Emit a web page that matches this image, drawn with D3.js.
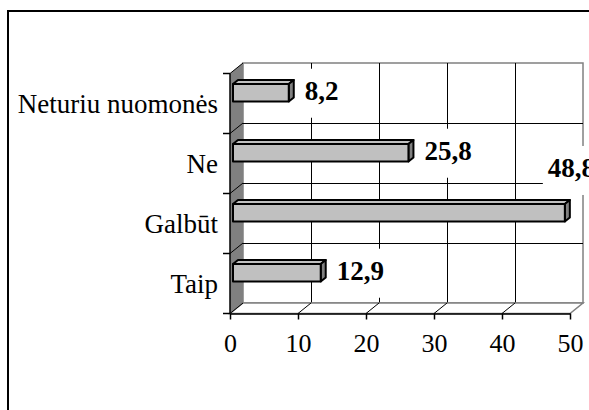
<!DOCTYPE html>
<html>
<head>
<meta charset="utf-8">
<script src="https://cdn.jsdelivr.net/npm/d3@7"></script>
<style>
body { margin: 0; background: #fff; overflow: hidden; }
svg { display: block; font-family: "Liberation Serif", "Times New Roman", serif; }
</style>
</head>
<body>
<svg width="589" height="410"></svg>
<script>
var categories = ["Neturiu nuomonės", "Ne", "Galbūt", "Taip"];
var values = [8.2, 25.8, 48.8, 12.9];
var labels = ["8,2", "25,8", "48,8", "12,9"];
var ticks = [0, 10, 20, 30, 40, 50];

var svg = d3.select("svg"),
width = +svg.attr("width"),
height = +svg.attr("height");

// 3d depth of the plot box
var depthX = 13, depthY = 10.5;

// scales on the back wall
var x = d3.scaleLinear().domain([0, 50]).range([243, 583]);
var y = d3.scaleBand().domain(categories).range([63, 303]);
// same scales on the front plane
var xf = d3.scaleLinear().domain([0, 50]).range([x(0) - depthX, x(50) - depthX]);
var yf = d3.scaleBand().domain(categories).range([63 + depthY, 303 + depthY]);

function px(v, z) { return x(v) - z; }
function py(yy, z) { return yy + z * depthY / depthX; }

var top0 = y.range()[0], bot0 = y.range()[1];
var bounds = categories.map(function(c) { return y(c); }).concat([bot0]);

// outer chart border
svg.append("rect")
.attr("x", 8).attr("y", 11)
.attr("width", 700).attr("height", 500)
.attr("fill", "none").attr("stroke", "#000").attr("stroke-width", 2);

// back wall
svg.append("rect")
.attr("x", x(0)).attr("y", top0)
.attr("width", x(50) - x(0)).attr("height", bot0 - top0)
.attr("fill", "#fff").attr("stroke", "#808080").attr("stroke-width", 1.5);

// vertical gridlines
svg.selectAll(".vgrid")
.data(ticks.slice(1, -1))
.enter().append("line")
.attr("class", "vgrid")
.attr("x1", function(d) { return x(d) + 0.5; }).attr("x2", function(d) { return x(d) + 0.5; })
.attr("y1", top0).attr("y2", bot0)
.attr("stroke", "#000").attr("stroke-width", 1)
.attr("shape-rendering", "crispEdges");

// horizontal gridlines
svg.selectAll(".hgrid")
.data(bounds.slice(1, -1))
.enter().append("line")
.attr("class", "hgrid")
.attr("x1", x(0)).attr("x2", x(50))
.attr("y1", function(d) { return d + 0.5; }).attr("y2", function(d) { return d + 0.5; })
.attr("stroke", "#000").attr("stroke-width", 1)
.attr("shape-rendering", "crispEdges");

// floor
var floorPts = [[px(0, 0), bot0], [px(50, 0), bot0], [px(50, depthX), py(bot0, depthX)], [px(0, depthX), py(bot0, depthX)]];
svg.append("polygon")
.attr("points", floorPts.join(" "))
.attr("fill", "#fff").attr("stroke", "#808080").attr("stroke-width", 1.5);

svg.selectAll(".fgrid")
.data(ticks.slice(1, -1))
.enter().append("line")
.attr("class", "fgrid")
.attr("x1", function(d) { return px(d, 0); }).attr("y1", bot0)
.attr("x2", function(d) { return px(d, depthX); }).attr("y2", py(bot0, depthX))
.attr("stroke", "#000").attr("stroke-width", 1);

// left wall
var wallPts = [[x(0), top0], [x(0), bot0], [px(0, depthX), py(bot0, depthX)], [px(0, depthX), py(top0, depthX)]];
svg.append("polygon")
.attr("points", wallPts.join(" "))
.attr("fill", "#808080");

svg.selectAll(".wgrid")
.data(bounds)
.enter().append("line")
.attr("class", "wgrid")
.attr("x1", x(0)).attr("y1", function(d) { return d; })
.attr("x2", px(0, depthX)).attr("y2", function(d) { return py(d, depthX); })
.attr("stroke", "#000").attr("stroke-width", 1);

// y axis (front)
svg.append("line")
.attr("x1", xf(0)).attr("x2", xf(0))
.attr("y1", yf.range()[0]).attr("y2", yf.range()[1])
.attr("stroke", "#000").attr("stroke-width", 1.5);

svg.selectAll(".ytick")
.data(bounds)
.enter().append("line")
.attr("class", "ytick")
.attr("x1", xf(0) - 7).attr("x2", xf(0))
.attr("y1", function(d) { return py(d, depthX); }).attr("y2", function(d) { return py(d, depthX); })
.attr("stroke", "#000").attr("stroke-width", 1.5);

svg.selectAll(".ylabel")
.data(categories)
.enter().append("text")
.attr("class", "ylabel")
.attr("x", 218)
.attr("y", function(d) { return yf(d) + yf.bandwidth() / 2; })
.attr("dy", "0.34em")
.attr("text-anchor", "end")
.attr("font-size", 27)
.text(function(d) { return d; });

// x axis (front)
var xAxis = svg.append("g")
.attr("transform", "translate(0," + yf.range()[1] + ")")
.call(d3.axisBottom(xf).tickValues(ticks).tickSize(6).tickPadding(14).tickSizeOuter(0));
xAxis.select(".domain").attr("stroke-width", 1.5);
xAxis.selectAll(".tick line").attr("stroke-width", 1.5);
xAxis.selectAll(".tick text")
.attr("font-family", "Liberation Serif, Times New Roman, serif")
.attr("font-size", 26).attr("fill", "#000");

// bars
var zFront = 10, zBack = 5;
var bdx = zFront - zBack, bdy = (zFront - zBack) * depthY / depthX;
var barH = 17.5;

var data = categories.map(function(c, i) { return {cat: c, value: values[i], label: labels[i]}; });

var bars = svg.selectAll(".bar")
.data(data)
.enter().append("g")
.attr("class", "bar");

bars.each(function(d) {
    var g = d3.select(this);
    var x0 = px(0, zFront), x1 = px(d.value, zFront);
    var yt = py(y(d.cat) + y.bandwidth() * 0.215, zFront);
    d.x1 = x1; d.yt = yt;
    g.append("polygon")
    .attr("points", [[x0, yt], [x0 + bdx, yt - bdy], [x1 + bdx, yt - bdy], [x1, yt]].join(" "))
    .attr("fill", "#c0c0c0");
    g.append("polygon")
    .attr("points", [[x1, yt], [x1 + bdx, yt - bdy], [x1 + bdx, yt + barH - bdy], [x1, yt + barH]].join(" "))
    .attr("fill", "#808080");
    g.append("rect")
    .attr("x", x0).attr("y", yt)
    .attr("width", x1 - x0).attr("height", barH)
    .attr("fill", "#c0c0c0");
    g.selectAll("polygon, rect")
    .attr("stroke", "#000").attr("stroke-width", 2).attr("stroke-linejoin", "round");
});

// value labels with white boxes
var lab = svg.selectAll(".vlabel")
.data(data)
.enter().append("g")
.attr("class", "vlabel");

lab.each(function(d) {
    var g = d3.select(this);
    var box = g.append("rect").attr("fill", "#fff");
    var t = g.append("text")
    .attr("font-size", 27).attr("font-weight", "bold")
    .text(d.label);
    var tw = t.node().getComputedTextLength();
    var lx = d.x1 + bdx + 11;
    var ly = d.yt + barH / 2 + 7;
    if (lx + tw > x(50)) {
        // no room on the right: put it above the bar end
        lx = d.x1 - 17;
        ly = d.yt - 27;
    }
    t.attr("x", lx).attr("y", ly);
    box.attr("x", lx - 5).attr("y", ly - 31)
    .attr("width", tw + 10).attr("height", 49);
});
</script>
</body>
</html>
